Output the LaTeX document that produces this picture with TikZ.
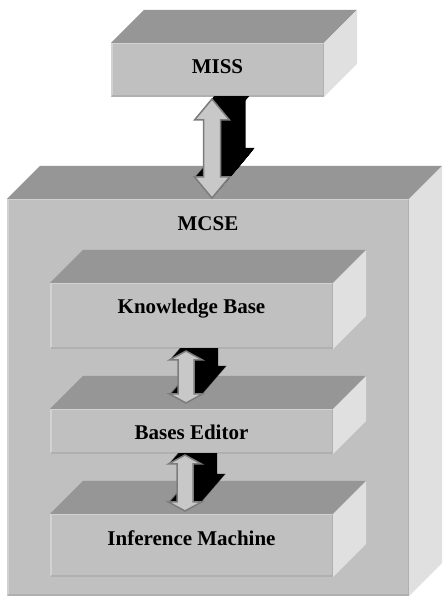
\documentclass[tikz,border=0pt]{standalone}
\usepackage{fontspec}
\setmainfont{Liberation Serif}
\usetikzlibrary{positioning,calc}
\definecolor{topgray}{HTML}{969696}
\definecolor{frontgray}{HTML}{C0C0C0}
\definecolor{sidegray}{HTML}{E0E0E0}
\definecolor{bevlight}{HTML}{D2D2D2}
\definecolor{bevdark}{HTML}{B0B0B0}
\definecolor{arrowgray}{HTML}{C8C8C8}
\definecolor{arrowedge}{HTML}{7C7C7C}
\tikzset{
    face/.style={rectangle, fill=frontgray, inner sep=0pt, outer sep=0pt},
    lbl/.style={font=\fontsize{21}{25}\selectfont\bfseries, anchor=base, inner sep=0pt},
    arrowbody/.style={fill=arrowgray, draw=arrowedge, line width=1.5pt, line join=miter},
    extrude/.style={fill=black},
}
\newcommand\slabdep{33}
% top and side faces of a slab, around its front face node
\newcommand\slabfaces[1]{%
    \fill[topgray] (#1.north west) -- ++(\slabdep,\slabdep) -- ($(#1.north east)+(\slabdep,\slabdep)$) -- (#1.north east) -- cycle;
    \fill[sidegray] (#1.north east) -- ++(\slabdep,\slabdep) -- ($(#1.south east)+(\slabdep,\slabdep)$) -- (#1.south east) -- cycle;
    \draw[bevlight, line width=1.5pt] ($(#1.south west)+(0.75,0.75)$) |- ($(#1.north east)+(-0.75,-0.75)$);
    \draw[bevdark, line width=1.5pt] ($(#1.south west)+(0.75,0.75)$) -| ($(#1.north east)+(-0.75,-0.75)$);
}
% double arrow between two tips: #3 offset, #4 style
\newcommand\arrowshape[4]{%
    \path[#4] ($(#1)+(#3)$) -- ++(-\ahh,-\ahl) -- ++(\ahh-\ash,0)
        -- ($(#2)+(#3)+(-\ash,\ahl)$) -- ++(\ash-\ahh,0) -- ($(#2)+(#3)$)
        -- ++(\ahh,\ahl) -- ++(\ash-\ahh,0)
        -- ($(#1)+(#3)+(\ash,-\ahl)$) -- ++(\ahh-\ash,0) -- cycle;
}
\begin{document}
\begin{tikzpicture}[x=1pt, y=1pt]
    \useasboundingbox (0,0) rectangle (442,596);
    \clip (0,0) rectangle (442,596);
    \fill[white] (0,0) rectangle (442,596);

    \node[face, minimum width=402pt, minimum height=397pt] (mcse) at (208,198.5) {};
    \node[face, minimum width=213pt, minimum height=54pt, above=102pt of mcse.north, xshift=9.5pt] (miss) {};
    \node[face, minimum width=283pt, minimum height=66pt, below=84pt of mcse.north, xshift=-16.5pt] (kb) {};
    \node[face, minimum width=283pt, minimum height=45pt, below=60pt of kb] (be) {};
    \node[face, minimum width=283pt, minimum height=63pt, below=60pt of be] (im) {};

    \slabfaces{mcse}
    \slabfaces{miss}
    \slabfaces{kb}
    \slabfaces{be}
    \slabfaces{im}

    \node[lbl] (misst) at ($(miss.center)+(0,-4)$) {MISS};
    \node[lbl] (mcset) at ($(mcse.north)+(0,-32)$) {MCSE};
    \node[lbl] (kbt) at ($(kb.center)+(0,2)$) {Knowledge Base};
    \node[lbl] (bet) at ($(be.center)+(0,-8.5)$) {Bases Editor};
    \node[lbl] (imt) at ($(im.center)+(0,-0.5)$) {Inference Machine};

    % MISS <-> MCSE
    \coordinate (a0top) at ($(miss.south)+(-5.5,-2)$);
    \coordinate (a0bot) at ($(mcse.north)+(4,1)$);
    \def\ahh{17.5}\def\ash{8.5}\def\ahl{21}
    \begin{scope}
        \clip (miss.south west) rectangle (mcse.north east);
        \foreach \k in {0,...,29} {\arrowshape{a0top}{a0bot}{0.862*\k,\k}{extrude}}
    \end{scope}
    \arrowshape{a0top}{a0bot}{0,0}{arrowbody}

    % Knowledge Base <-> Bases Editor
    \coordinate (a1top) at ($(kb.south)+(-5.5,-2)$);
    \coordinate (a1bot) at ($(be.north)+(-5.5,6)$);
    \def\ahh{16.5}\def\ash{8}\def\ahl{9}
    \begin{scope}
        \clip (kb.south west) rectangle (be.north east);
        \foreach \k in {0,...,28} {\arrowshape{a1top}{a1bot}{0.862*\k,\k}{extrude}}
    \end{scope}
    \arrowshape{a1top}{a1bot}{0,0}{arrowbody}

    % Bases Editor <-> Inference Machine
    \coordinate (a2top) at ($(be.south)+(-6.5,-1)$);
    \coordinate (a2bot) at ($(im.north)+(-6.5,3)$);
    \begin{scope}
        \clip (be.south west) rectangle (im.north east);
        \foreach \k in {0,...,28} {\arrowshape{a2top}{a2bot}{0.862*\k,\k}{extrude}}
    \end{scope}
    \arrowshape{a2top}{a2bot}{0,0}{arrowbody}
\end{tikzpicture}
\end{document}
